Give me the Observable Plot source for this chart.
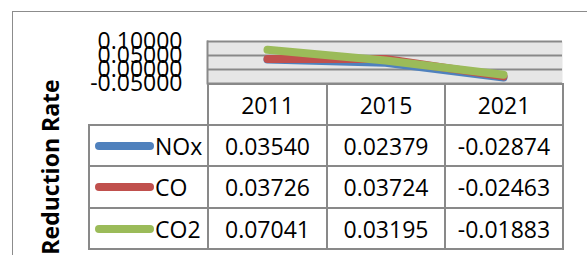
<!DOCTYPE html>
<html>
<head>
<meta charset="utf-8">
<script src="https://cdn.jsdelivr.net/npm/d3@7"></script>
<script src="https://cdn.jsdelivr.net/npm/@observablehq/plot@0.6"></script>
<style>
  body { margin: 0; background: #fff; }
  #wrap { position: relative; width: 587px; height: 255px; overflow: hidden; font-family: "Open Sans", sans-serif; background: #fff; }
  #border { position: absolute; left: 12px; top: 11px; width: 600px; height: 300px; border-left: 1.5px solid #8c8c8c; border-top: 1.5px solid #8c8c8c; }
  #plot { position: absolute; left: 0; top: 0; }
  #ytitle { position: absolute; left: 50px; top: 167px; transform: translate(-50%, -50%) rotate(-90deg); font-weight: bold; font-size: 23px; white-space: nowrap; color: #000; }
  #tbl { position: absolute; left: 88px; top: 83px; border-collapse: collapse; table-layout: fixed; font-size: 23px; color: #000; }
  #tbl td { border: 2px solid #898989; text-align: center; padding: 0; white-space: nowrap; }
  #tbl td.blank { border: none; }
  #tbl td.key { text-align: left; }
  .keywrap { display: flex; align-items: center; }
</style>
</head>
<body>
<div id="wrap">
  <div id="border"></div>
  <div id="plot"></div>
  <div id="ytitle"></div>
  <table id="tbl"></table>
</div>
<script>
const years = ["2011", "2015", "2021"];
const series = ["NOx", "CO", "CO2"];
const noxValues = [0.03540, 0.02379, -0.02874];
const coValues = [0.03726, 0.03724, -0.02463];
const co2Values = [0.07041, 0.03195, -0.01883];
const yTicks = [-0.05, 0, 0.05, 0.10];
const colors = ["#4F81BD", "#C0504D", "#9BBB59"];
const yTitle = "Reduction Rate";

const valuesBySeries = [noxValues, coValues, co2Values];
const data = series.flatMap((s, i) => years.map((y, j) => ({series: s, year: y, value: valuesBySeries[i][j]})));
const fmt = d => d.toFixed(5);

const chart = Plot.plot({
  width: 587,
  height: 255,
  marginTop: 41,
  marginBottom: 172,
  marginLeft: 207,
  marginRight: 25,
  style: {fontFamily: "Open Sans", fontSize: "23px", background: "transparent", overflow: "visible", color: "#000"},
  x: {type: "point", domain: years, padding: 0.5, axis: null},
  y: {domain: [-0.05, 0.10], axis: null},
  color: {domain: series, range: colors},
  marks: [
    Plot.frame({fill: "#e6e6e6", stroke: null}),
    Plot.gridY(yTicks, {stroke: "#898989", strokeOpacity: 1, strokeWidth: 2}),
    Plot.frame({anchor: "left", stroke: "#898989", strokeWidth: 2}),
    Plot.axisY(yTicks, {tickSize: 0, tickPadding: 25, tickFormat: fmt, fontSize: 23, label: null}),
    Plot.line(data, {x: "year", y: "value", z: "series", stroke: "series", strokeWidth: 8, strokeLinecap: "round", strokeLinejoin: "round"})
  ]
});
document.getElementById("plot").appendChild(chart);
document.getElementById("ytitle").textContent = yTitle;

const tbl = document.getElementById("tbl");
const colW = [119, 119, 118, 118];
const rowH = [41, 41, 42, 41];
const cg = document.createElement("colgroup");
colW.forEach(w => { const c = document.createElement("col"); c.style.width = w + "px"; cg.appendChild(c); });
tbl.appendChild(cg);
const hr = document.createElement("tr");
hr.style.height = rowH[0] + "px";
const blank = document.createElement("td"); blank.className = "blank"; hr.appendChild(blank);
years.forEach(y => { const td = document.createElement("td"); td.textContent = y; hr.appendChild(td); });
tbl.appendChild(hr);
series.forEach((s, i) => {
  const tr = document.createElement("tr");
  tr.style.height = rowH[i + 1] + "px";
  const key = document.createElement("td"); key.className = "key";
  key.innerHTML = `<div class="keywrap"><svg width="65" height="12"><line x1="9" y1="6" x2="60" y2="6" stroke="${colors[i]}" stroke-width="8" stroke-linecap="round"/></svg><span>${s}</span></div>`;
  tr.appendChild(key);
  valuesBySeries[i].forEach(v => { const td = document.createElement("td"); td.textContent = fmt(v); tr.appendChild(td); });
  tbl.appendChild(tr);
});
</script>
</body>
</html>
